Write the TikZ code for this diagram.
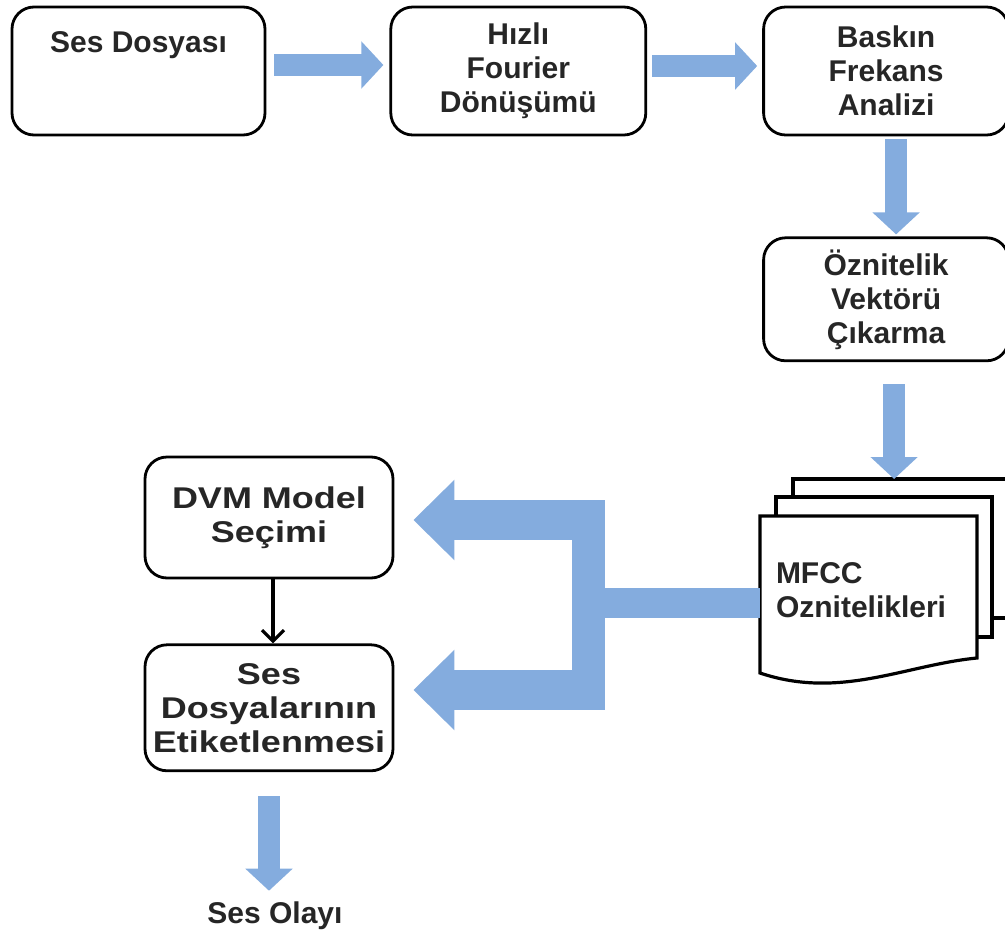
\documentclass[tikz,border=0pt]{standalone}
\usepackage{fontspec}
\setmainfont{Liberation Sans}
\newfontfamily\widefont[FakeStretch=1.2]{Liberation Sans}
\usetikzlibrary{arrows.meta,positioning}
\definecolor{flowblue}{RGB}{132,172,222}
\newcommand{\boxfont}{\fontsize{30}{34}\selectfont\bfseries}
\tikzset{
    %Define style for boxes
    process/.style={
           rectangle,
           rounded corners=22pt,
           draw=black, line width=2.8pt,
           align=center,
           font=\boxfont,
           text=black!85},
    sheet/.style={
           rectangle,
           minimum width=217pt,
           minimum height=142pt,
           text width=185pt,
           inner xsep=16pt,
           align=left,
           font=\boxfont,
           text=black!85},
    % Define arrow style
    flow/.style={
           draw=flowblue,
           line width=22pt,
           -{Triangle[width=46pt,length=22pt]}},
    fork/.style={
           draw=flowblue,
           line width=40pt,
           -{Triangle[width=78pt,length=41pt]}}
}
\begin{document}
\begin{tikzpicture}[x=1pt,y=-1pt]
\useasboundingbox (0,0) rectangle (1005,940);
\clip (0,0) rectangle (1005,940);
\node[process, minimum width=253pt, minimum height=128pt, inner ysep=0pt,
      text height=45pt, text depth=83pt] (ses) at (138.5,71) {Ses Dosyası};
\node[process, minimum width=255pt, minimum height=128pt, right=123pt of ses] (fft) {Hızlı\\Fourier\\Dönüşümü};
\node[process, minimum width=245pt, minimum height=128pt, right=115pt of fft] (baskin) {Baskın\\Frekans\\Analizi};
\node[process, minimum width=245pt, minimum height=123pt, below=100pt of baskin] (oz) {Öznitelik\\Vektörü\\Çıkarma};
\node[process, minimum width=248pt, minimum height=121pt,
      font=\widefont\boxfont] (dvm) at (269,517.5) {DVM Model\\Seçimi};
\node[process, minimum width=248pt, minimum height=126pt,
      font=\widefont\boxfont, below=64pt of dvm] (etiket) {Ses\\Dosyalarının\\Etiketlenmesi};
\node[font=\boxfont, text=black!85, anchor=base] (olay) at (275,923) {Ses Olayı};
% stacked sheets
\coordinate (stack) at (793,479);
\draw[line width=3.2pt, fill=white] (stack) rectangle (1020,618);
\draw[line width=3.2pt, fill=white] (776,497) rectangle (992,637);
\draw[line width=3.2pt, fill=white] (760,516) -- (977,516) -- (977,658)
      .. controls (905,665) and (840,700) .. (760,673) -- cycle;
\node[sheet] (mfcc) at (868.5,590) {MFCC\\Oznitelikleri};
% flow arrows
\draw[flow, shorten <=8pt, shorten >=6pt] ([yshift=6pt]ses.east) -- ([yshift=6pt]fft.west);
\draw[flow, shorten <=5pt, shorten >=5pt] ([yshift=5pt]fft.east) -- ([yshift=5pt]baskin.west);
\draw[flow, shorten <=3pt, shorten >=2pt] ([xshift=10pt]baskin.south) -- ([xshift=10pt]oz.north);
\draw[flow, shorten <=22pt] ([xshift=8pt]oz.south) -- ([xshift=8pt]oz.south |- stack);
\draw[flow, shorten <=24pt, shorten >=7pt] (etiket.south) -- (etiket.south |- olay.north);
% split towards the classifier
\coordinate (split) at (588.5,603);
\coordinate (upper) at (588.5,520);
\coordinate (lower) at (588.5,690);
\draw[flowblue, line width=30pt] (mfcc.west |- split) -- (split);
\draw[flowblue, line width=33pt] ([yshift=20pt]upper) -- ([yshift=-20pt]lower);
\draw[fork, shorten >=19pt] (upper) -- (upper -| dvm.east);
\draw[fork, shorten >=19pt] (lower) -- (lower -| etiket.east);
\draw[line width=3.2pt, -{Straight Barb[width=22pt,length=11pt]}] ([xshift=4pt]dvm.south) -- ([xshift=4pt]etiket.north);
\end{tikzpicture}
\end{document}
